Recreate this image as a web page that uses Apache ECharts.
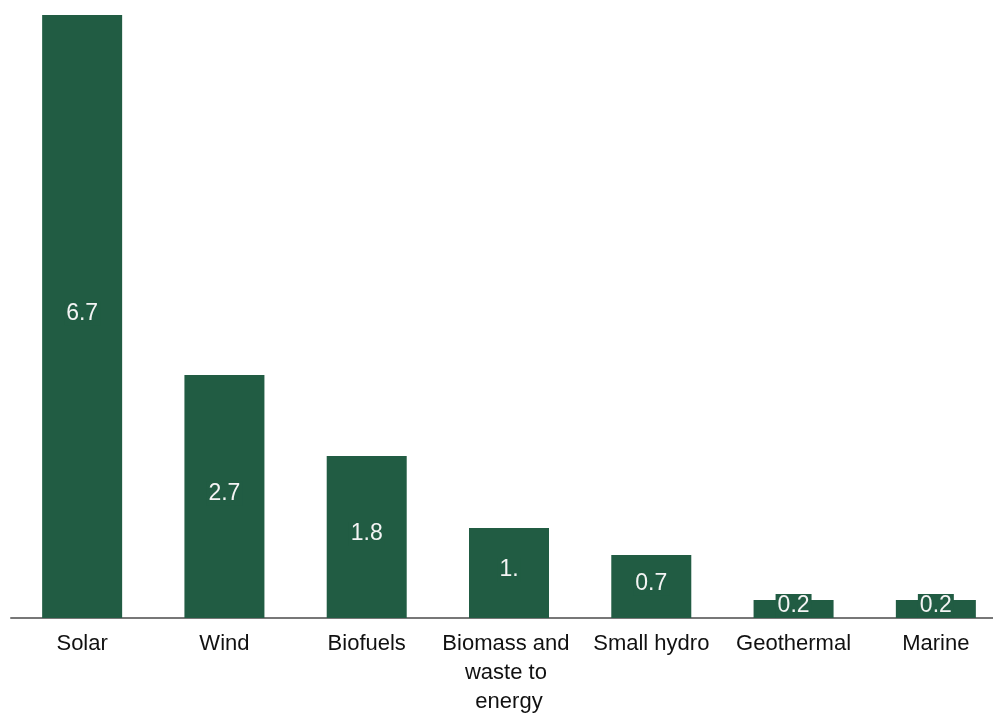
<!DOCTYPE html>
<html>
<head>
<meta charset="utf-8">
<script src="https://cdn.jsdelivr.net/npm/echarts@6/dist/echarts.min.js"></script>
<style>html,body{margin:0;padding:0;background:#fff;}#c{width:993px;height:713px;}</style>
</head>
<body>
<div id="c"></div>
<script>
const categories = ['Solar', 'Wind', 'Biofuels', 'Biomass and waste to energy', 'Small hydro', 'Geothermal', 'Marine'];
const values = [6.7, 2.7, 1.8, 1.0, 0.7, 0.2, 0.2];

const barColor = '#215c43';
const chart = echarts.init(document.getElementById('c'));
chart.setOption({
  animation: false,
  grid: { left: 11, top: 15, bottom: 95, right: -14, containLabel: false, outerBoundsMode: 'none' },
  xAxis: {
    type: 'category',
    data: categories,
    axisLine: { lineStyle: { color: '#777', width: 2 } },
    axisTick: { show: false },
    axisLabel: {
      color: '#111', fontFamily: 'Liberation Sans', fontSize: 22, lineHeight: 29,
      margin: 11, width: 140, overflow: 'break', interval: 0
    }
  },
  yAxis: {
    type: 'value', min: 0, max: 6.7,
    show: false,
    splitLine: { show: false }
  },
  series: [{
    type: 'bar',
    data: values,
    barWidth: 80,
    itemStyle: { color: barColor },
    label: {
      show: true, position: 'inside',
      color: '#f4f4f4', fontFamily: 'Liberation Sans', fontSize: 23, lineHeight: 8,
      backgroundColor: barColor, padding: [16, 2, 0, 2], offset: [0, -3],
      formatter: p => (p.value % 1 === 0 ? p.value + '.' : String(p.value))
    }
  }]
});
</script>
</body>
</html>
